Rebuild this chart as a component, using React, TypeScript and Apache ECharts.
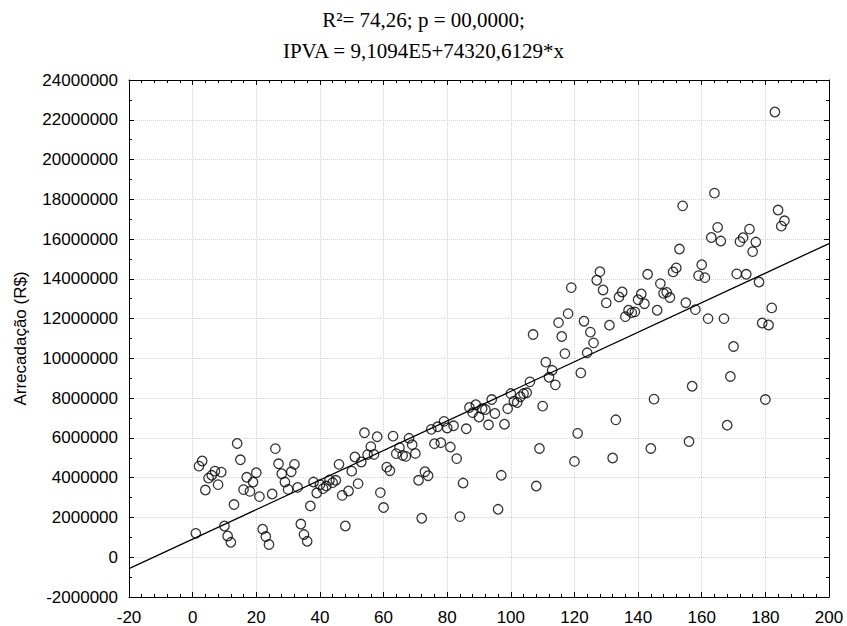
import React, { useEffect, useRef } from "react";
import * as echarts from "echarts";

const titleLine1 = "R²= 74,26; p = 00,0000;";
const titleLine2 = "IPVA = 9,1094E5+74320,6129*x";
const yAxisName = "Arrecadação (R$)";

const intercept = 910940;
const slope = 74320.6129;

const xValues = [
  1, 2, 3, 4, 5, 6, 7, 8, 9, 10, 11, 12, 13, 14, 15, 16, 17, 18, 19, 20,
  21, 22, 23, 24, 25, 26, 27, 28, 29, 30, 31, 32, 33, 34, 35, 36, 37, 38, 39, 40,
  41, 42, 43, 44, 45, 46, 47, 48, 49, 50, 51, 52, 53, 54, 55, 56, 57, 58, 59, 60,
  61, 62, 63, 64, 65, 66, 67, 68, 69, 70, 71, 72, 73, 74, 75, 76, 77, 78, 79, 80,
  81, 82, 83, 84, 85, 86, 87, 88, 89, 90, 91, 92, 93, 94, 95, 96, 97, 98, 99, 100,
  101, 102, 103, 104, 105, 106, 107, 108, 109, 110, 111, 112, 113, 114, 115, 116, 117, 118, 119, 120,
  121, 122, 123, 124, 125, 126, 127, 128, 129, 130, 131, 132, 133, 134, 135, 136, 137, 138, 139, 140,
  141, 142, 143, 144, 145, 146, 147, 148, 149, 150, 151, 152, 153, 154, 155, 156, 157, 158, 159, 160,
  161, 162, 163, 164, 165, 166, 167, 168, 169, 170, 171, 172, 173, 174, 175, 176, 177, 178, 179, 180,
  181, 182, 183, 184, 185, 186,
];

const yValues = [
  1200000, 4580000, 4840000, 3380000, 3980000, 4120000, 4330000, 3650000, 4280000, 1570000,
  1070000, 750000, 2650000, 5720000, 4900000, 3400000, 4020000, 3310000, 3780000, 4250000,
  3050000, 1410000, 1040000, 640000, 3180000, 5460000, 4700000, 4200000, 3780000, 3410000,
  4300000, 4670000, 3510000, 1670000, 1140000, 800000, 2580000, 3780000, 3230000, 3650000,
  3450000, 3580000, 3880000, 3750000, 3870000, 4670000, 3110000, 1570000, 3330000, 4330000,
  5040000, 3700000, 4790000, 6260000, 5160000, 5560000, 5170000, 6060000, 3250000, 2500000,
  4530000, 4350000, 6090000, 5210000, 5510000, 5120000, 5070000, 5980000, 5660000, 5220000,
  3870000, 1960000, 4300000, 4100000, 6430000, 5710000, 6560000, 5760000, 6830000, 6500000,
  5540000, 6610000, 4960000, 2040000, 3730000, 6460000, 7530000, 7270000, 7670000, 7050000,
  7470000, 7430000, 6660000, 7930000, 7230000, 2410000, 4120000, 6690000, 7470000, 8230000,
  7850000, 7780000, 8070000, 8230000, 8270000, 8820000, 11200000, 3580000, 5470000, 7600000,
  9810000, 9050000, 9400000, 8670000, 11800000, 11100000, 10240000, 12250000, 13560000, 4820000,
  6230000, 9270000, 11870000, 10280000, 11320000, 10780000, 13930000, 14360000, 13440000, 12790000,
  11670000, 4990000, 6910000, 13090000, 13340000, 12100000, 12420000, 12300000, 12340000, 12950000,
  13240000, 12750000, 14230000, 5470000, 7950000, 12420000, 13760000, 13270000, 13320000, 13060000,
  14350000, 14550000, 15500000, 17670000, 12800000, 5820000, 8600000, 12450000, 14160000, 14710000,
  14060000, 12000000, 16080000, 18310000, 16590000, 15900000, 12000000, 6640000, 9090000, 10600000,
  14250000, 15870000, 16070000, 14230000, 16500000, 15370000, 15850000, 13840000, 11780000, 7930000,
  11680000, 12540000, 22390000, 17460000, 16650000, 16920000,
];

const X_MIN = -20;
const X_MAX = 200;
const Y_MIN = -2000000;
const Y_MAX = 24000000;

export default function App() {
  const ref = useRef<HTMLDivElement>(null);

  useEffect(() => {
    if (!ref.current) return;
    const chart = echarts.init(ref.current, undefined, { renderer: "svg" });
    const points = xValues.map((x, i) => [x, yValues[i]]);
    const fitLine = [
      [X_MIN, intercept + slope * X_MIN],
      [X_MAX, intercept + slope * X_MAX],
    ];
    const labelFont = {
      fontFamily: "Liberation Sans, Arial, sans-serif",
      fontSize: 17,
      color: "#000",
    };
    const titleFont = {
      fontFamily: "Liberation Serif, Times New Roman, serif",
      fontSize: 21,
      fontWeight: "normal",
      color: "#000",
    };
    const axisCommon = {
      axisLine: { show: true, onZero: false, lineStyle: { color: "#000", width: 1 } },
      axisTick: { show: true, inside: true, length: 5, lineStyle: { color: "#000" } },
    };
    chart.setOption({
      animation: false,
      backgroundColor: "#fff",
      title: [
        { text: titleLine1, left: "center", top: 4, textStyle: titleFont },
        { text: titleLine2, left: "center", top: 35, textStyle: titleFont },
      ],
      grid: { left: 129, right: 18, top: 80, bottom: 29, containLabel: false },
      xAxis: [
        {
          type: "value",
          min: X_MIN,
          max: X_MAX,
          interval: 20,
          position: "bottom",
          ...axisCommon,
          minorTick: { show: true, splitNumber: 5, length: 3, lineStyle: { color: "#000" } },
          axisLabel: { ...labelFont, margin: 12 },
          splitLine: { show: true, lineStyle: { color: "#d4d4d4", type: "dotted", width: 1 } },
        },
        {
          type: "value",
          min: X_MIN,
          max: X_MAX,
          interval: 20,
          position: "top",
          ...axisCommon,
          minorTick: { show: true, splitNumber: 5, length: 3, lineStyle: { color: "#000" } },
          axisLabel: { show: false },
          splitLine: { show: false },
        },
      ],
      yAxis: [
        {
          type: "value",
          min: Y_MIN,
          max: Y_MAX,
          interval: 2000000,
          position: "left",
          name: yAxisName,
          nameLocation: "middle",
          nameGap: 100,
          nameTextStyle: {
            fontFamily: "Liberation Sans, Arial, sans-serif",
            fontSize: 17,
            color: "#000",
          },
          ...axisCommon,
          minorTick: { show: true, splitNumber: 2, length: 3, lineStyle: { color: "#000" } },
          axisLabel: { ...labelFont, margin: 11, formatter: (v: number) => String(v) },
          splitLine: { show: true, lineStyle: { color: "#d4d4d4", type: "dotted", width: 1 } },
        },
        {
          type: "value",
          min: Y_MIN,
          max: Y_MAX,
          interval: 2000000,
          position: "right",
          ...axisCommon,
          minorTick: { show: true, splitNumber: 2, length: 3, lineStyle: { color: "#000" } },
          axisLabel: { show: false },
          splitLine: { show: false },
        },
      ],
      series: [
        {
          type: "line",
          data: fitLine,
          xAxisIndex: 0,
          yAxisIndex: 0,
          symbol: "none",
          lineStyle: { color: "#000", width: 1.3 },
          silent: true,
          z: 2,
        },
        {
          type: "scatter",
          data: points,
          xAxisIndex: 0,
          yAxisIndex: 0,
          symbol: "circle",
          symbolSize: 9.5,
          itemStyle: { color: "rgba(255,255,255,0)", borderColor: "#000", borderWidth: 1.3 },
          z: 3,
        },
      ],
    });
    return () => chart.dispose();
  }, []);

  return <div ref={ref} style={{ width: 847, height: 626, position: "absolute", left: 0, top: 0 }} />;
}
